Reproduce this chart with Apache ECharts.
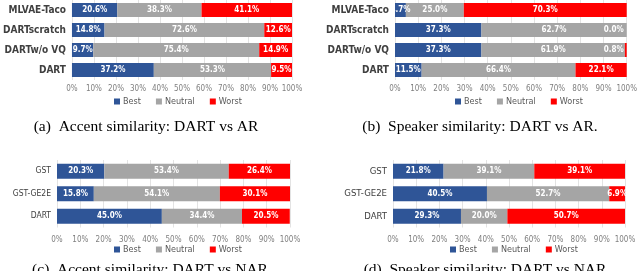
<!DOCTYPE html>
<html>
<head>
<meta charset="utf-8">
<script src="https://cdn.jsdelivr.net/npm/echarts@6/dist/echarts.min.js"></script>
<style>
html,body{margin:0;padding:0;background:#fff;}
#chart{width:640px;height:271px;}
</style>
</head>
<body>
<div id="chart"></div>
<script>
// ---- data ----
var seriesNames = ['Best', 'Neutral', 'Worst'];
var xTicks = [0, 10, 20, 30, 40, 50, 60, 70, 80, 90, 100];

var catsA = ['MLVAE-Taco', 'DARTscratch', 'DARTw/o VQ', 'DART'];
var bestA = [20.6, 14.8, 9.7, 37.2];
var neutralA = [38.3, 72.6, 75.4, 53.3];
var worstA = [41.1, 12.6, 14.9, 9.5];

var catsB = ['MLVAE-Taco', 'DARTscratch', 'DARTw/o VQ', 'DART'];
var bestB = [4.7, 37.3, 37.3, 11.5];
var neutralB = [25.0, 62.7, 61.9, 66.4];
var worstB = [70.3, 0.0, 0.8, 22.1];

var catsC = ['GST', 'GST-GE2E', 'DART'];
var bestC = [20.3, 15.8, 45.0];
var neutralC = [53.4, 54.1, 34.4];
var worstC = [26.4, 30.1, 20.5];

var catsD = ['GST', 'GST-GE2E', 'DART'];
var bestD = [21.8, 40.5, 29.3];
var neutralD = [39.1, 52.7, 20.0];
var worstD = [39.1, 6.9, 50.7];

var captions = [
  '(a)  Accent similarity: DART vs AR',
  '(b)  Speaker similarity: DART vs AR.',
  '(c)  Accent similarity: DART vs NAR',
  '(d)  Speaker similarity: DART vs NAR'
];

// ---- layout ----
var colors = ['#2F5597', '#A5A5A5', '#FF0000'];
var FONT = '"Liberation Sans Narrow", "DejaVu Sans Condensed", "Liberation Sans", sans-serif';
var panels = [
  {cats: catsA, vals: [bestA, neutralA, worstA], grid: {left: 56, top: 0, width: 236, height: 80}, gap: '30%', xMargin: 5, catSize: 10, catWeight: 'bold', legendLeft: 114, legendTop: 97, cap: [146, 127]},
  {cats: catsB, vals: [bestB, neutralB, worstB], grid: {left: 395, top: 0, width: 236, height: 80}, gap: '30%', xMargin: 5, catSize: 10, catWeight: 'bold', legendLeft: 455, legendTop: 97, cap: [480, 127]},
  {cats: catsC, vals: [bestC, neutralC, worstC], grid: {left: 57, top: 160, width: 233, height: 67.5}, gap: '33%', xMargin: 8, catSize: 8.5, catWeight: 'normal', legendLeft: 114, legendTop: 245, cap: [150, 270]},
  {cats: catsD, vals: [bestD, neutralD, worstD], grid: {left: 393, top: 160, width: 232, height: 67.5}, gap: '33%', xMargin: 8, catSize: 9.5, catWeight: 'normal', legendLeft: 450, legendTop: 245, cap: [485, 270]}
];

var grids = [], xAxes = [], yAxes = [], series = [], legends = [], graphics = [];
panels.forEach(function (p, i) {
  grids.push(Object.assign({containLabel: false}, p.grid));
  xAxes.push({
    type: 'value', gridIndex: i, min: xTicks[0], max: xTicks[xTicks.length - 1], interval: 10,
    axisLine: {show: false}, axisTick: {show: false},
    splitLine: {show: true, lineStyle: {color: '#E3E3E3', width: 1}},
    axisLabel: {formatter: '{value}%', color: '#7F7F7F', fontSize: 8, fontFamily: FONT, margin: p.xMargin}
  });
  yAxes.push({
    type: 'category', gridIndex: i, data: p.cats, inverse: true,
    axisLine: {show: false}, axisTick: {show: false}, splitLine: {show: false},
    axisLabel: {color: '#404040', fontSize: p.catSize, fontWeight: p.catWeight, fontFamily: FONT, margin: 6}
  });
  seriesNames.forEach(function (name, k) {
    series.push({
      type: 'bar', name: name, stack: 'p' + i, xAxisIndex: i, yAxisIndex: i,
      barCategoryGap: p.gap,
      itemStyle: {color: colors[k]},
      data: p.vals[k].map(function (v) {
        var d = {value: v};
        if (v < 2) d.label = {position: 'insideRight', distance: 3};
        return d;
      }),
      label: {
        show: true, position: 'inside', color: '#fff', fontSize: 8, fontWeight: 'bold', fontFamily: FONT,
        formatter: function (prm) { return prm.value.toFixed(1) + '%'; }
      },
      emphasis: {disabled: true}
    });
  });
  legends.push({
    data: seriesNames, left: p.legendLeft, top: p.legendTop, orient: 'horizontal',
    itemWidth: 6, itemHeight: 6, itemGap: 15, icon: 'rect',
    textStyle: {color: '#595959', fontSize: 9, fontFamily: FONT, padding: [0, 0, 0, -2]},
    padding: 0, selectedMode: false
  });
  graphics.push({
    type: 'text', x: p.cap[0], y: p.cap[1],
    style: {text: captions[i], fill: '#000', font: '15.5px "Liberation Serif", "DejaVu Serif", serif', textAlign: 'center', textVerticalAlign: 'middle'}
  });
});

var chart = echarts.init(document.getElementById('chart'), null, {renderer: 'canvas'});
chart.setOption({
  animation: false,
  grid: grids, xAxis: xAxes, yAxis: yAxes, series: series, legend: legends, graphic: graphics
});
</script>
</body>
</html>
